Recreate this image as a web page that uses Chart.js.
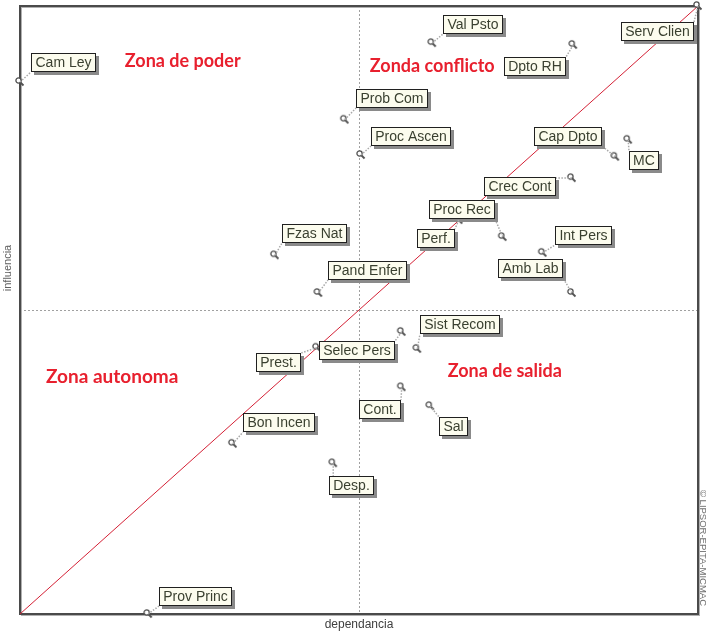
<!DOCTYPE html>
<html>
<head>
<meta charset="utf-8">
<script src="https://cdn.jsdelivr.net/npm/chart.js@4.4.1/dist/chart.umd.min.js"></script>
<style>
  html, body { margin: 0; padding: 0; background: #ffffff; }
  #wrap { width: 706px; height: 635px; position: relative; }
</style>
</head>
<body>
<div id="wrap"><canvas id="c" width="706" height="635"></canvas></div>
<script>
// ---- DATA ----
const variables = ["Cam Ley","Val Psto","Serv Clien","Dpto RH","Prob Com","Proc Ascen","Cap Dpto","MC","Crec Cont","Proc Rec","Perf.","Fzas Nat","Pand Enfer","Int Pers","Amb Lab","Selec Pers","Sist Recom","Prest.","Cont.","Sal","Bon Incen","Desp.","Prov Princ"];
const dependencia = [0, 60.8, 100, 81.6, 47.9, 50.3, 87.8, 89.7, 81.4, 71.2, 64.7, 37.6, 44.0, 77.1, 81.4, 56.3, 58.6, 43.8, 56.3, 60.5, 31.4, 46.2, 18.9];
const influencia  = [87.5, 93.9, 100, 93.6, 81.3, 75.5, 75.2, 78.0, 71.7, 62.0, 64.8, 59.0, 52.8, 59.4, 52.8, 46.4, 43.6, 43.8, 37.3, 34.2, 28.0, 24.8, 0];
const meanDependencia = 50;
const meanInfluencia = 50;
const diagonalX = [0, 100];
const diagonalY = [0, 100];
const zoneNames = ["Zona de poder", "Zonda conflicto", "Zona autonoma", "Zona de salida"];
const zoneX = [24.0, 60.8, 13.6, 71.5];
const zoneY = [91.0, 90.1, 39.0, 40.0];
const xTitle = "dependancia";
const yTitle = "influencia";
const credit = "© LIPSOR-EPITA-MICMAC";

// ---- LAYOUT (label placement offsets in px, relative to each point) ----
const labelOffsets = [
  [43,-20],[41,-19],[-41,25],[-38,22],[47,-21],[50,-18],[-47,-20],[16,21],[-52,8],[-41,-28],
  [-23,18],[40,-22],[49,-22],[41,-17],[-41,-24],[-45,19],[43,-24],[-38,15],[-22,22],[23,20],
  [46,-21],[18,22],[47,-18]
];
const zoneFontSizes = [18, 18, 19, 18];

const points = variables.map((n, i) => ({ x: dependencia[i], y: influencia[i] }));
const diag = diagonalX.map((x, i) => ({ x: x, y: diagonalY[i] }));

const decorPlugin = {
  id: 'decor',
  beforeDatasetsDraw(chart) {
    const { ctx, chartArea: a, scales: { x, y } } = chart;
    ctx.save();
    // mean lines
    ctx.strokeStyle = '#a0a0a0';
    ctx.lineWidth = 1;
    ctx.setLineDash([2, 2]);
    const mx = Math.round(x.getPixelForValue(meanDependencia)) + 0.5;
    const my = Math.round(y.getPixelForValue(meanInfluencia)) + 0.5;
    ctx.beginPath(); ctx.moveTo(mx, a.top); ctx.lineTo(mx, a.bottom); ctx.stroke();
    ctx.beginPath(); ctx.moveTo(a.left, my); ctx.lineTo(a.right, my); ctx.stroke();
    ctx.setLineDash([]);
    // frame shadow + frame
    ctx.strokeStyle = '#b0b0b0';
    ctx.lineWidth = 1;
    ctx.strokeRect(a.left + 1.5, a.top + 1.5, a.right - a.left, a.bottom - a.top);
    ctx.strokeStyle = '#4a4a4a';
    ctx.lineWidth = 2;
    ctx.strokeRect(a.left, a.top, a.right - a.left, a.bottom - a.top);
    // zone texts
    ctx.fillStyle = '#e8202e';
    ctx.textAlign = 'center';
    ctx.textBaseline = 'middle';
    zoneNames.forEach((z, i) => {
      ctx.font = 'bold ' + zoneFontSizes[i] + 'px Lato, "Open Sans", sans-serif';
      ctx.fillText(z, x.getPixelForValue(zoneX[i]), y.getPixelForValue(zoneY[i]));
    });
    // axis titles
    ctx.fillStyle = '#404040';
    ctx.font = '12px "Liberation Sans", Arial, sans-serif';
    ctx.fillText(xTitle, (a.left + a.right) / 2, a.bottom + 11);
    ctx.save();
    ctx.translate(a.left - 12, 268);
    ctx.rotate(-Math.PI / 2);
    ctx.fillStyle = '#606060';
    ctx.font = '11px "Liberation Sans", Arial, sans-serif';
    ctx.fillText(yTitle, 0, 0);
    ctx.restore();
    ctx.save();
    ctx.translate(a.right + 5, 548);
    ctx.rotate(Math.PI / 2);
    ctx.fillStyle = '#707070';
    ctx.font = '9.5px "Liberation Sans", Arial, sans-serif';
    ctx.fillText(credit, 0, 0);
    ctx.restore();
    ctx.restore();
  },
  afterDatasetsDraw(chart) {
    const { ctx, scales: { x, y } } = chart;
    ctx.save();
    ctx.font = '14px "Liberation Sans", Arial, sans-serif';
    ctx.textAlign = 'center';
    ctx.textBaseline = 'middle';
    variables.forEach((name, i) => {
      const px = x.getPixelForValue(dependencia[i]);
      const py = y.getPixelForValue(influencia[i]);
      const cx = px + labelOffsets[i][0];
      const cy = py + labelOffsets[i][1];
      const w = Math.ceil(ctx.measureText(name).width) + 8;
      const h = 19;
      const l = Math.round(cx - w / 2), t = Math.round(cy - h / 2);
      // leader line
      const ex = Math.max(l, Math.min(l + w, px));
      const ey = Math.max(t, Math.min(t + h, py));
      ctx.strokeStyle = '#a8a8a8';
      ctx.lineWidth = 1.5;
      ctx.setLineDash([1.5, 1.5]);
      ctx.beginPath(); ctx.moveTo(px, py); ctx.lineTo(ex, ey); ctx.stroke();
      ctx.setLineDash([]);
      // shadow
      ctx.fillStyle = '#8a8a8a';
      ctx.fillRect(l + 3, t + 3, w, h);
      // box
      ctx.fillStyle = '#fcfcee';
      ctx.fillRect(l, t, w, h);
      ctx.strokeStyle = '#202020';
      ctx.lineWidth = 1;
      ctx.strokeRect(l + 0.5, t + 0.5, w - 1, h - 1);
      ctx.fillStyle = '#3a4030';
      ctx.fillText(name, l + w / 2, t + h / 2 + 1);
    });
    ctx.restore();
  }
};

// marker: small circle with a tail (magnifier-like)
function makeMarker() {
  const c = document.createElement('canvas');
  c.width = 12; c.height = 12;
  const g = c.getContext('2d');
  g.strokeStyle = '#505050';
  g.lineWidth = 1.3;
  g.beginPath(); g.arc(4.5, 4.5, 2.6, 0, Math.PI * 2); g.fillStyle = '#ffffff'; g.fill(); g.stroke();
  g.lineWidth = 1.8;
  g.beginPath(); g.moveTo(6.5, 6.5); g.lineTo(9.5, 9.5); g.stroke();
  return c;
}
const marker = makeMarker();

new Chart(document.getElementById('c'), {
  type: 'scatter',
  data: {
    datasets: [
      {
        type: 'line',
        data: diag,
        borderColor: '#d42035',
        borderWidth: 1,
        pointRadius: 0,
        fill: false,
        clip: false,
        order: 2
      },
      {
        data: points,
        pointStyle: marker,
        pointRadius: 5,
        clip: false,
        order: 1
      }
    ]
  },
  options: {
    responsive: false,
    animation: false,
    events: [],
    layout: { padding: { left: 20, right: 8, top: 6, bottom: 21 } },
    plugins: { legend: { display: false }, tooltip: { enabled: false } },
    scales: {
      x: { type: 'linear', min: 0, max: 100, display: false },
      y: { type: 'linear', min: 0, max: 100, display: false }
    }
  },
  plugins: [decorPlugin]
});
</script>
</body>
</html>
